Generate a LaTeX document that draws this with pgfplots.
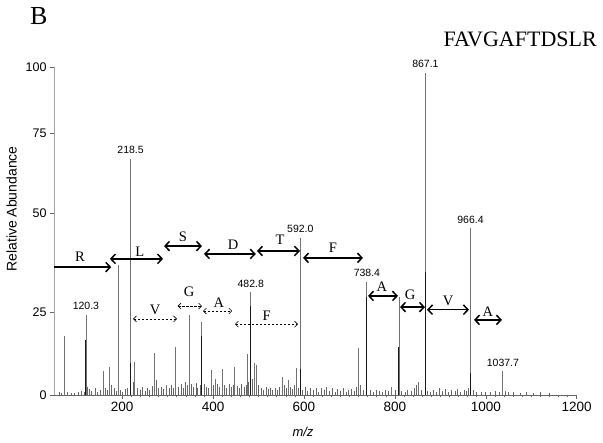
\documentclass[border=0pt]{standalone}
\usepackage{fontspec}
\setmainfont{Liberation Sans}
\newfontfamily\tms{Liberation Serif}
\usepackage{pgfplots}
\usepackage{pgfplotstable}
\pgfplotsset{compat=1.18}
\usetikzlibrary{arrows.meta}

% main peaks: m/z, height (height in the drawn scale of the y axis)
\pgfplotstableread{
mz h
72 18
120.3 24.4
158 7.3
173 8.5
190.8 39.6
218.5 72
228 10
272 12.8
298 3
318 14.6
347 24.5
375 22.3
397 7.6
405 5
420 7.9
448 8.5
475 12.5
482.8 31.4
490 9.8
496 9
552 5.5
565 4.6
584 8.2
592.0 47.9
719 14.3
738.4 34.5
793 2.4
809 29.9
851 4
867.1 98.2
966.4 50.9
1037.7 7.3
}\peaks

% darker lower part of the strong lines
\pgfplotstableread{
mz h
120.3 16.8
218.5 9.8
375 18
482.8 27
592.0 8
738.4 30
809 14.6
867.1 37.5
966.4 6.7
}\cores

% small background lines
\pgfplotstableread{
mz h
62 0.8
66 0.5
80 1.0
88 0.6
95 0.7
104 0.9
110 1.2
116 1.0
124 2.5
128 1.8
133 1.2
140 2.0
146 1.0
151 1.4
163 2.2
168 1.5
177 3.0
182 2.0
186 1.2
196 1.5
201 1.0
206 1.8
212 2.2
224 4.0
234 2.0
240 1.4
245 2.5
250 1.2
255 2.0
260 1.5
266 2.8
276 4.5
280 2.0
286 2.5
291 1.8
296 2.2
304 2.0
309 3.0
313 2.0
324 2.5
329 3.5
334 2.0
339 4.0
343 3.0
352 3.5
357 2.5
362 3.8
366 2.0
371 3.0
380 3.2
385 2.5
390 2.0
401 3.0
410 3.5
414 2.5
425 3.0
430 2.0
436 3.5
441 2.5
444 3.0
453 2.8
458 2.0
463 3.2
468 2.5
472 3.0
478 4.0
486 5.0
500 3.0
505 2.0
510 1.5
516 2.5
521 1.8
526 2.2
531 1.5
536 2.0
541 1.4
546 2.5
557 3.0
561 2.0
570 2.5
575 1.8
579 3.0
588 2.0
597 1.5
603 2.5
608 1.2
614 2.0
620 1.5
626 2.2
632 1.0
638 2.0
644 1.5
650 2.5
656 1.2
662 2.0
668 1.0
674 1.8
680 1.2
686 2.0
692 1.0
698 1.5
704 1.8
710 1.2
715 2.5
724 3.0
730 1.5
745 1.5
752 1.0
758 1.5
765 1.2
772 1.0
778 1.5
785 1.2
800 1.5
815 1.2
822 1.0
828 1.5
835 1.2
842 2.0
847 3.0
858 1.5
872 1.2
878 1.0
885 1.5
892 1.0
898 2.0
905 1.2
912 1.8
918 1.0
925 1.5
932 1.2
938 1.8
945 1.0
952 1.5
958 1.2
962 2.0
972 1.5
980 1.0
990 0.8
1000 1.0
1010 0.8
1020 1.2
1030 1.0
1043 1.2
1050 0.8
1060 1.0
1075 0.7
1090 0.8
1105 0.6
1120 0.8
1140 0.5
}\noise

\begin{document}
\begin{tikzpicture}[
  solidarr/.style={line width=1.5pt, -{Straight Barb[length=4.5pt,width=9.5pt]}},
  dbl/.style={line width=1.5pt, {Straight Barb[length=4.5pt,width=9.5pt]}-{Straight Barb[length=4.5pt,width=9.5pt]}},
  dsh/.style={line width=0.6pt, dash pattern=on 2.5pt off 1.5pt, {Straight Barb[length=3pt,width=6pt]}-{Straight Barb[length=3pt,width=6pt]}},
  aa/.style={font=\tms\fontsize{14.5}{16}\selectfont, inner sep=0pt},
  pk/.style={font=\fontsize{10.5}{12}\selectfont, anchor=base, yshift=5pt, inner sep=0pt},
]
\begin{axis}[
  at={(0,0)}, anchor=south west,
  scale only axis, width=522.7pt, height=328pt,
  xmin=50, xmax=1200, ymin=0, ymax=100,
  axis x line*=bottom, axis y line*=left,
  x axis line style={black!60, line width=0.6pt},
  y axis line style={black!35, line width=0.6pt},
  xtick={200,400,...,1200}, minor x tick num=9,
  ytick={0,25.3,55.5,79.9,100}, yticklabels={0,25,50,75,100},
  tick align=outside, major tick length=4pt, minor tick length=2.5pt,
  tick style={black!60, line width=0.5pt},
  yticklabel style={font=\fontsize{12.5}{14}\selectfont},
  xticklabel style={font=\fontsize{13.5}{15}\selectfont},
  /pgf/number format/1000 sep={},
  /pgf/number format/assume math mode=true,
  clip=false,
]
\addplot[ycomb, no marks, black!60, line width=0.6pt] table[x=mz, y=h] {\noise};
\addplot[ycomb, no marks, black!55, line width=0.9pt] table[x=mz, y=h] {\peaks};
\addplot[ycomb, no marks, black!90, line width=1pt] table[x=mz, y=h] {\cores};

\node[pk] at (axis cs:120.3,24.4) {120.3};
\node[pk] at (axis cs:218.5,72) {218.5};
\node[pk] at (axis cs:482.8,31.4) {482.8};
\node[pk] at (axis cs:592.0,47.9) {592.0};
\node[pk] at (axis cs:738.4,34.5) {738.4};
\node[pk] at (axis cs:867.1,98.2) {867.1};
\node[pk] at (axis cs:966.4,50.9) {966.4};
\node[pk] at (axis cs:1037.7,7.3) {1037.7};

% solid arrows
\draw[solidarr] (axis cs:50,39) -- (axis cs:176,39);
\node[aa] at (axis cs:107,42.1) {R};
\draw[dbl] (axis cs:173,41.5) -- (axis cs:290,41.5);
\node[aa] at (axis cs:239,43.8) {L};
\draw[dbl] (axis cs:292,45.4) -- (axis cs:375.6,45.4);
\node[aa] at (axis cs:333.4,48.2) {S};
\draw[dbl] (axis cs:380,43) -- (axis cs:494,43);
\node[aa] at (axis cs:443.8,45.9) {D};
\draw[dbl] (axis cs:496.4,43.9) -- (axis cs:591.2,43.9);
\node[aa] at (axis cs:547.2,47.3) {T};
\draw[dbl] (axis cs:597.8,41.8) -- (axis cs:729.8,41.8);
\node[aa] at (axis cs:663.8,44.8) {F};
\draw[dbl] (axis cs:740.8,30.2) -- (axis cs:806.8,30.2);
\node[aa] at (axis cs:771.6,32.9) {A};
\draw[dbl] (axis cs:811.2,26.8) -- (axis cs:866.2,26.8);
\node[aa] at (axis cs:833.3,30.5) {G};
\draw[dbl] (axis cs:870.6,26) -- (axis cs:963,26);
\node[aa] at (axis cs:916.9,28.7) {V};
\draw[dbl] (axis cs:974,22.9) -- (axis cs:1035.6,22.9);
\node[aa] at (axis cs:1004.8,25.3) {A};

% dashed arrows
\draw[dsh] (axis cs:224,23.2) -- (axis cs:320.6,23.2);
\node[aa] at (axis cs:272.4,25.9) {V};
\draw[dsh] (axis cs:322,27.1) -- (axis cs:375.6,27.1);
\node[aa] at (axis cs:347,31.4) {G};
\draw[dsh] (axis cs:377.8,25.6) -- (axis cs:442,25.6);
\node[aa] at (axis cs:412.5,28) {A};
\draw[dsh] (axis cs:448,21.6) -- (axis cs:586.8,21.6);
\node[aa] at (axis cs:518,24.1) {F};
\end{axis}

\node[font=\tms\fontsize{26}{28}\selectfont, anchor=base west, inner sep=0pt] at (-24pt,370pt) {B};
\node[font=\tms\fontsize{22}{24}\selectfont, anchor=base east, inner sep=0pt] at (543pt,348pt) {FAVGAFTDSLR};
\node[font=\fontsize{14}{16}\selectfont, rotate=90] at (-42.5pt,186pt) {Relative Abundance};
\node[font=\itshape\fontsize{13}{15}\selectfont] at (249pt,-37pt) {m/z};

\pgfresetboundingbox
\useasboundingbox (-54pt,-48pt) rectangle (549pt,395pt);
\end{tikzpicture}
\end{document}
